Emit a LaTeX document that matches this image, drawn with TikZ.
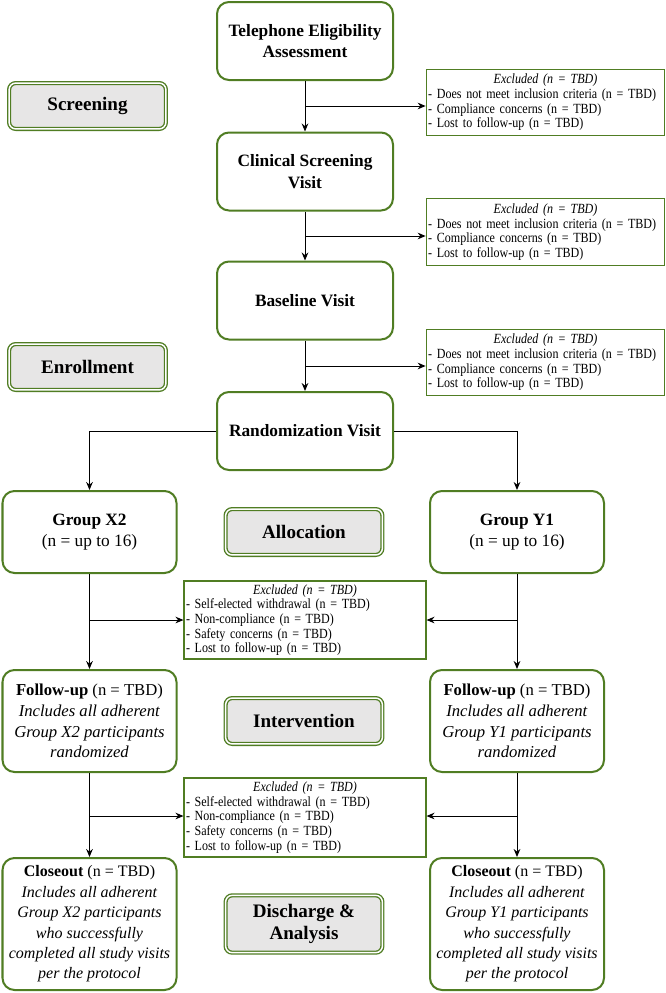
\documentclass[tikz,border=0pt]{standalone}
\usepackage{fontspec}
\setmainfont{Liberation Serif}
\newfontfamily\exfont[FakeStretch=0.86]{Liberation Serif}
\usetikzlibrary{arrows.meta}
\definecolor{bgreen}{RGB}{80,125,35}
\definecolor{lgray}{RGB}{231,230,230}
\begin{document}
\begin{tikzpicture}[x=0.75pt,y=-0.75pt,
  mainbox/.style={draw=bgreen, line width=1.5pt, rounded corners=9pt, fill=white, align=center,
    minimum width=130.5pt, minimum height=58.5pt, inner sep=2pt, font=\fontsize{13}{16}\selectfont},
  phase/.style={draw=bgreen, line width=1pt, double=white, double distance=1.1pt, rounded corners=5pt,
    fill=lgray, align=center, minimum width=117.6pt, minimum height=34.4pt, inner sep=2pt,
    font=\fontsize{14.3}{16}\selectfont\bfseries},
  exbox/.style={draw=bgreen, line width=0.8pt, fill=white, inner xsep=1.5pt, inner ysep=2pt, align=left,
    font=\exfont\fontsize{10.5}{11}\selectfont},
  arr/.style={line width=0.75pt, -{Stealth[length=6pt,width=5pt]}}]
\useasboundingbox (0,0) rectangle (666,993);

% main column
\node[mainbox, minimum width=132pt] (tel) at (305,41) {\textbf{Telephone Eligibility}\\\textbf{Assessment}};
\node[mainbox, minimum width=132pt] (clin) at (305,171.5) {\textbf{Clinical Screening}\\\textbf{Visit}};
\node[mainbox, minimum width=132pt] (base) at (305,300.5) {\textbf{Baseline Visit}};
\node[mainbox, minimum width=132pt] (rand) at (305,431) {\textbf{Randomization Visit}};

% exclusion boxes (top)
\node[exbox, text width=176pt, minimum height=50pt] (ex1) at (545.5,102.5)
  {{\centering\itshape Excluded (n = TBD)\par}
   - Does not meet inclusion criteria (n = TBD)\\
   - Compliance concerns (n = TBD)\\
   - Lost to follow-up (n = TBD)};
\node[exbox, text width=176pt, minimum height=50pt] (ex2) at (545.5,232)
  {{\centering\itshape Excluded (n = TBD)\par}
   - Does not meet inclusion criteria (n = TBD)\\
   - Compliance concerns (n = TBD)\\
   - Lost to follow-up (n = TBD)};
\node[exbox, text width=176pt, minimum height=50pt] (ex3) at (545.5,362.5)
  {{\centering\itshape Excluded (n = TBD)\par}
   - Does not meet inclusion criteria (n = TBD)\\
   - Compliance concerns (n = TBD)\\
   - Lost to follow-up (n = TBD)};

% phase labels
\node[phase] (scr) at (87.5,106) {Screening};
\node[phase] (enr) at (87.5,367) {Enrollment};
\node[phase] (all) at (304,532) {Allocation};
\node[phase] (int) at (304,721) {Intervention};
\node[phase, minimum height=43pt] (dis) at (304,924) {Discharge \&\\Analysis};

% groups
\node[mainbox, minimum height=61.5pt] (gx) at (89.5,532) {\textbf{Group X2}\\(n = up to 16)};
\node[mainbox, minimum height=61.5pt] (gy) at (517,532) {\textbf{Group Y1}\\(n = up to 16)};

\node[exbox, text width=178.5pt, minimum height=58.5pt] (ex4) at (305,620)
  {{\centering\itshape Excluded (n = TBD)\par}
   - Self-elected withdrawal (n = TBD)\\
   - Non-compliance (n = TBD)\\
   - Safety concerns (n = TBD)\\
   - Lost to follow-up (n = TBD)};

\node[mainbox, minimum height=76.5pt, font=\fontsize{12.5}{15.5}\selectfont] (fx) at (89.5,721)
  {\textbf{Follow-up} (n = TBD)\\\textit{Includes all adherent}\\\textit{Group X2 participants}\\\textit{randomized}};
\node[mainbox, minimum height=76.5pt, font=\fontsize{12.5}{15.5}\selectfont] (fy) at (517,721)
  {\textbf{Follow-up} (n = TBD)\\\textit{Includes all adherent}\\\textit{Group Y1 participants}\\\textit{randomized}};

\node[exbox, text width=178.5pt, minimum height=59.25pt] (ex5) at (305,817.5)
  {{\centering\itshape Excluded (n = TBD)\par}
   - Self-elected withdrawal (n = TBD)\\
   - Non-compliance (n = TBD)\\
   - Safety concerns (n = TBD)\\
   - Lost to follow-up (n = TBD)};

\node[mainbox, minimum height=99pt, font=\fontsize{12}{15.3}\selectfont] (cx) at (89.5,924)
  {\textbf{Closeout} (n = TBD)\\\textit{Includes all adherent}\\\textit{Group X2 participants}\\\textit{who successfully}\\\textit{completed all study visits}\\\textit{per the protocol}};
\node[mainbox, minimum height=99pt, font=\fontsize{12}{15.3}\selectfont] (cy) at (517,924)
  {\textbf{Closeout} (n = TBD)\\\textit{Includes all adherent}\\\textit{Group Y1 participants}\\\textit{who successfully}\\\textit{completed all study visits}\\\textit{per the protocol}};

% branch points
\coordinate (b1) at (305,106);
\coordinate (b2) at (305,236);
\coordinate (b3) at (305,366);
\coordinate (bl4) at (89.5,620);
\coordinate (br4) at (517,620);
\coordinate (bl5) at (89.5,816);
\coordinate (br5) at (517,816);

% connectors
\draw[arr] (tel) -- (clin);
\draw[arr] (b1) -- (b1 -| ex1.west);
\draw[arr] (clin) -- (base);
\draw[arr] (b2) -- (b2 -| ex2.west);
\draw[arr] (base) -- (rand);
\draw[arr] (b3) -- (b3 -| ex3.west);

\draw[arr] (rand.west) -| (gx.north);
\draw[arr] (rand.east) -| (gy.north);

\draw[arr] (gx) -- (fx);
\draw[arr] (bl4) -- (bl4 -| ex4.west);
\draw[arr] (gy) -- (fy);
\draw[arr] (br4) -- (br4 -| ex4.east);

\draw[arr] (fx) -- (cx);
\draw[arr] (bl5) -- (bl5 -| ex5.west);
\draw[arr] (fy) -- (cy);
\draw[arr] (br5) -- (br5 -| ex5.east);
\end{tikzpicture}
\end{document}
